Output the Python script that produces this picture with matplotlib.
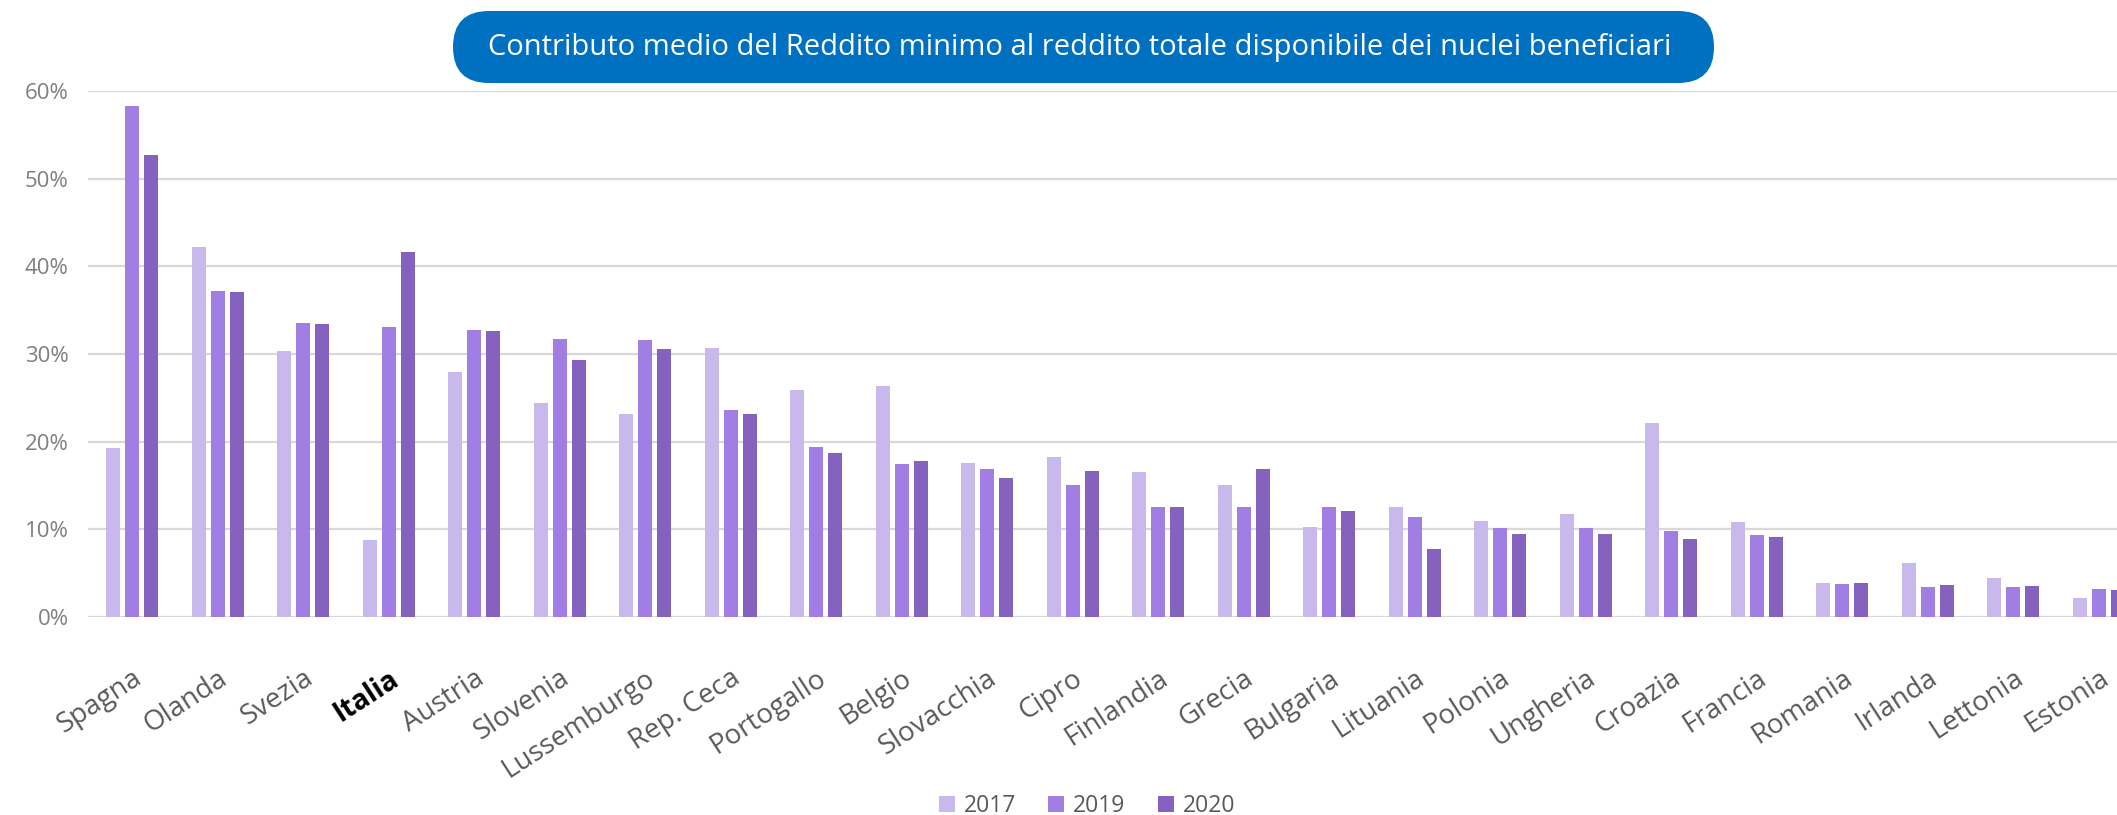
import matplotlib
matplotlib.use("Agg")
import matplotlib.pyplot as plt
from matplotlib.patches import FancyBboxPatch
import numpy as np

plt.rcParams['font.family'] = ['Open Sans', 'DejaVu Sans']

# dati (quota %)
paesi = ['Spagna', 'Olanda', 'Svezia', 'Italia', 'Austria', 'Slovenia', 'Lussemburgo',
         'Rep. Ceca', 'Portogallo', 'Belgio', 'Slovacchia', 'Cipro', 'Finlandia', 'Grecia',
         'Bulgaria', 'Lituania', 'Polonia', 'Ungheria', 'Croazia', 'Francia', 'Romania',
         'Irlanda', 'Lettonia', 'Estonia']
v2017 = [19.3, 42.2, 30.3, 8.8, 27.9, 24.4, 23.1, 30.7, 25.9, 26.3, 17.6, 18.3,
         16.5, 15.1, 10.3, 12.5, 11.0, 11.8, 22.1, 10.8, 3.9, 6.15, 4.4, 2.2]
v2019 = [58.3, 37.2, 33.5, 33.1, 32.7, 31.75, 31.6, 23.6, 19.4, 17.5, 16.85, 15.1,
         12.5, 12.5, 12.5, 11.35, 10.1, 10.1, 9.8, 9.3, 3.75, 3.4, 3.4, 3.2]
v2020 = [52.7, 37.1, 33.4, 41.6, 32.6, 29.3, 30.6, 23.1, 18.7, 17.8, 15.9, 16.7,
         12.5, 16.85, 12.1, 7.7, 9.5, 9.5, 8.9, 9.1, 3.9, 3.7, 3.5, 3.1]
anni = ['2017', '2019', '2020']
colori = ['#c9b8ec', '#a07ee3', '#8462bd']

W, H = 2117, 815
fig = plt.figure(figsize=(W / 100, H / 100), dpi=100)
ax = fig.add_axes([88 / W, 1 - 617 / H, 1 - 88 / W, (617 - 91) / H])

x = np.arange(len(paesi))
step = 0.222
width = 0.164
for k, (serie, c, anno) in enumerate(zip([v2017, v2019, v2020], colori, anni)):
    ax.bar(x + (k - 1) * step, serie, width=width, color=c, label=anno, zorder=3)

ax.set_xlim(-0.515, 23.216)
ax.set_ylim(0, 60)
ax.set_yticks(range(0, 61, 10))
ax.set_yticklabels([f'{v}%' for v in range(0, 61, 10)])
ax.grid(axis='y', color='#d9d9d9', linewidth=1.6, zorder=0)
for s in ax.spines.values():
    s.set_visible(False)
ax.tick_params(axis='y', length=0, pad=14, labelsize=16, labelcolor='#7f7f7f')

ax.set_xticks(x)
ax.set_xticklabels(paesi, rotation=33, ha='right', va='top', rotation_mode='anchor')
ax.tick_params(axis='x', length=0, pad=34, labelsize=20, labelcolor='#595959')
for t in ax.get_xticklabels():
    if t.get_text() == 'Italia':
        t.set_fontweight('bold')
        t.set_color('black')

# titolo in riquadro blu arrotondato
box = FancyBboxPatch((4.53, (H - 83) / 100), 12.61, 0.72,
                     boxstyle='round,pad=0,rounding_size=0.36',
                     transform=fig.dpi_scale_trans, fc='#0070c0', ec='none')
fig.patches.append(box)
fig.text(1080 / W, 1 - 47 / H,
         'Contributo medio del Reddito minimo al reddito totale disponibile dei nuclei beneficiari',
         ha='center', va='center', color='white', fontsize=21)

fig.legend(loc='center', bbox_to_anchor=(1087 / W, 1 - 806 / H), ncol=3, frameon=False,
           fontsize=16.5, handlelength=0.7, handleheight=0.7, handletextpad=0.4,
           columnspacing=1.4, labelcolor='#595959')

fig.savefig('out.png', dpi=100)
